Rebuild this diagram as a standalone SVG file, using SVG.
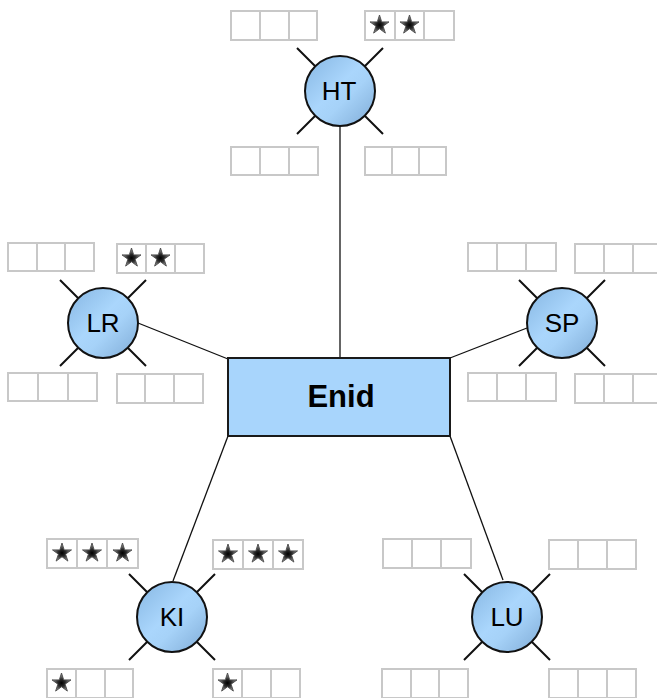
<svg xmlns="http://www.w3.org/2000/svg" xmlns:xlink="http://www.w3.org/1999/xlink" width="657" height="698" viewBox="0 0 657 698">
  <style>
    .cell { fill: #ffffff; stroke: #c8c8c8; stroke-width: 2; }
    .conn { stroke: #111111; stroke-width: 1.3; fill: none; }
    .tick { stroke: #111111; stroke-width: 2; fill: none; }
    .hub { fill: url(#hubFill); stroke: #111111; stroke-width: 2; }
    .hubLabel { font-family: "Liberation Sans", Arial, sans-serif; font-size: 26px; fill: #000000; text-anchor: middle; }
    .center { fill: #a8d5fc; stroke: #1a1a1a; stroke-width: 2; }
    .centerLabel { font-family: "Liberation Sans", Arial, sans-serif; font-size: 31px; font-weight: bold; fill: #000000; text-anchor: middle; }
  </style>
  <defs>
    <linearGradient id="hubFill" x1="0" y1="0" x2="1" y2="1">
      <stop offset="0" stop-color="#86b6e2"/>
      <stop offset="0.45" stop-color="#aad6fc"/>
      <stop offset="0.6" stop-color="#a6d2f8"/>
      <stop offset="1" stop-color="#7fabd6"/>
    </linearGradient>
    <radialGradient id="starFill" cx="0.5" cy="0.55" r="0.5">
      <stop offset="0" stop-color="#000000"/>
      <stop offset="0.4" stop-color="#2a2a2a"/>
      <stop offset="1" stop-color="#9a9a9a"/>
    </radialGradient>
    <symbol id="star" overflow="visible">
      <polygon points="0,-10 2.2,-3.1 9.51,-3.09 3.6,1.15 5.88,8.09 0,3.8 -5.88,8.09 -3.6,1.15 -9.51,-3.09 -2.2,-3.1" fill="url(#starFill)" stroke="#4a4a4a" stroke-width="0.9" stroke-linejoin="round"/>
    </symbol>
    <symbol id="ticks" overflow="visible">
      <path class="tick" d="M-25,-25 L-43,-43 M25,-25 L43,-43 M-25,25 L-43,43 M25,25 L43,43"/>
    </symbol>
  </defs>

  <rect width="657" height="698" fill="#ffffff"/>

  <!-- links between the hub circles and the central box -->
  <g id="connectors">
    <line class="conn" x1="340" y1="126" x2="340" y2="358"/>
    <line class="conn" x1="138" y1="323" x2="228" y2="359"/>
    <line class="conn" x1="527" y1="328" x2="450" y2="358"/>
    <line class="conn" x1="228" y1="436" x2="173" y2="581"/>
    <line class="conn" x1="450" y1="436" x2="503" y2="580"/>
  </g>

  <g id="enid">
    <rect class="center" x="228" y="358" width="222" height="78"/>
    <text class="centerLabel" x="341" y="407">Enid</text>
  </g>

  <g id="ht">
    <use href="#ticks" x="340" y="91"/>
    <circle class="hub" cx="340" cy="91" r="35"/>
    <text class="hubLabel" x="339" y="100">HT</text>
    <g id="ht-tl"><rect class="cell" x="231" y="11" width="29" height="29"/><rect class="cell" x="260" y="11" width="29" height="29"/><rect class="cell" x="289" y="11" width="28" height="29"/></g>
    <g id="ht-tr"><rect class="cell" x="365" y="11" width="30" height="29"/><rect class="cell" x="395" y="11" width="29" height="29"/><rect class="cell" x="424" y="11" width="30" height="29"/>
      <use href="#star" x="379.5" y="25"/><use href="#star" x="409.5" y="25"/></g>
    <g id="ht-bl"><rect class="cell" x="231" y="147" width="29" height="28"/><rect class="cell" x="260" y="147" width="29" height="28"/><rect class="cell" x="289" y="147" width="29" height="28"/></g>
    <g id="ht-br"><rect class="cell" x="365" y="147" width="27" height="28"/><rect class="cell" x="392" y="147" width="27" height="28"/><rect class="cell" x="419" y="147" width="27" height="28"/></g>
  </g>

  <g id="lr">
    <use href="#ticks" x="103" y="323"/>
    <circle class="hub" cx="103" cy="323" r="35"/>
    <text class="hubLabel" x="103" y="332">LR</text>
    <g id="lr-tl"><rect class="cell" x="8" y="243" width="29" height="28"/><rect class="cell" x="37" y="243" width="28" height="28"/><rect class="cell" x="65" y="243" width="29" height="28"/></g>
    <g id="lr-tr"><rect class="cell" x="117" y="244" width="29" height="29"/><rect class="cell" x="146" y="244" width="29" height="29"/><rect class="cell" x="175" y="244" width="29" height="29"/>
      <use href="#star" x="131.5" y="258"/><use href="#star" x="160.5" y="258"/></g>
    <g id="lr-bl"><rect class="cell" x="8" y="373" width="30" height="28"/><rect class="cell" x="38" y="373" width="30" height="28"/><rect class="cell" x="68" y="373" width="29" height="28"/></g>
    <g id="lr-br"><rect class="cell" x="117" y="374" width="28" height="29"/><rect class="cell" x="145" y="374" width="29" height="29"/><rect class="cell" x="174" y="374" width="29" height="29"/></g>
  </g>

  <g id="sp">
    <use href="#ticks" x="562" y="323"/>
    <circle class="hub" cx="562" cy="323" r="35"/>
    <text class="hubLabel" x="562" y="332">SP</text>
    <g id="sp-tl"><rect class="cell" x="468" y="243" width="29" height="28"/><rect class="cell" x="497" y="243" width="29" height="28"/><rect class="cell" x="526" y="243" width="30" height="28"/></g>
    <g id="sp-tr"><rect class="cell" x="575" y="244" width="29" height="29"/><rect class="cell" x="604" y="244" width="29" height="29"/><rect class="cell" x="633" y="244" width="29" height="29"/></g>
    <g id="sp-bl"><rect class="cell" x="468" y="373" width="29" height="28"/><rect class="cell" x="497" y="373" width="29" height="28"/><rect class="cell" x="526" y="373" width="30" height="28"/></g>
    <g id="sp-br"><rect class="cell" x="575" y="374" width="29" height="29"/><rect class="cell" x="604" y="374" width="29" height="29"/><rect class="cell" x="633" y="374" width="29" height="29"/></g>
  </g>

  <g id="ki">
    <use href="#ticks" x="172" y="617"/>
    <circle class="hub" cx="172" cy="617" r="35"/>
    <text class="hubLabel" x="172" y="626">KI</text>
    <g id="ki-tl"><rect class="cell" x="47" y="539" width="30" height="29"/><rect class="cell" x="77" y="539" width="30" height="29"/><rect class="cell" x="107" y="539" width="31" height="29"/>
      <use href="#star" x="62" y="553"/><use href="#star" x="92" y="553"/><use href="#star" x="122.5" y="553"/></g>
    <g id="ki-tr"><rect class="cell" x="213" y="540" width="30" height="29"/><rect class="cell" x="243" y="540" width="30" height="29"/><rect class="cell" x="273" y="540" width="30" height="29"/>
      <use href="#star" x="228" y="554"/><use href="#star" x="258" y="554"/><use href="#star" x="288" y="554"/></g>
    <g id="ki-bl"><rect class="cell" x="47" y="669" width="29" height="29"/><rect class="cell" x="76" y="669" width="29" height="29"/><rect class="cell" x="105" y="669" width="28" height="29"/>
      <use href="#star" x="61.5" y="683"/></g>
    <g id="ki-br"><rect class="cell" x="213" y="669" width="29" height="29"/><rect class="cell" x="242" y="669" width="29" height="29"/><rect class="cell" x="271" y="669" width="29" height="29"/>
      <use href="#star" x="227.5" y="683"/></g>
  </g>

  <g id="lu">
    <use href="#ticks" x="507" y="617"/>
    <circle class="hub" cx="507" cy="617" r="35"/>
    <text class="hubLabel" x="507" y="626">LU</text>
    <g id="lu-tl"><rect class="cell" x="383" y="539" width="29" height="29"/><rect class="cell" x="412" y="539" width="29" height="29"/><rect class="cell" x="441" y="539" width="30" height="29"/></g>
    <g id="lu-tr"><rect class="cell" x="549" y="540" width="29" height="29"/><rect class="cell" x="578" y="540" width="29" height="29"/><rect class="cell" x="607" y="540" width="29" height="29"/></g>
    <g id="lu-bl"><rect class="cell" x="382" y="669" width="29" height="29"/><rect class="cell" x="411" y="669" width="28" height="29"/><rect class="cell" x="439" y="669" width="29" height="29"/></g>
    <g id="lu-br"><rect class="cell" x="549" y="669" width="29" height="29"/><rect class="cell" x="578" y="669" width="29" height="29"/><rect class="cell" x="607" y="669" width="29" height="29"/></g>
  </g>
</svg>
